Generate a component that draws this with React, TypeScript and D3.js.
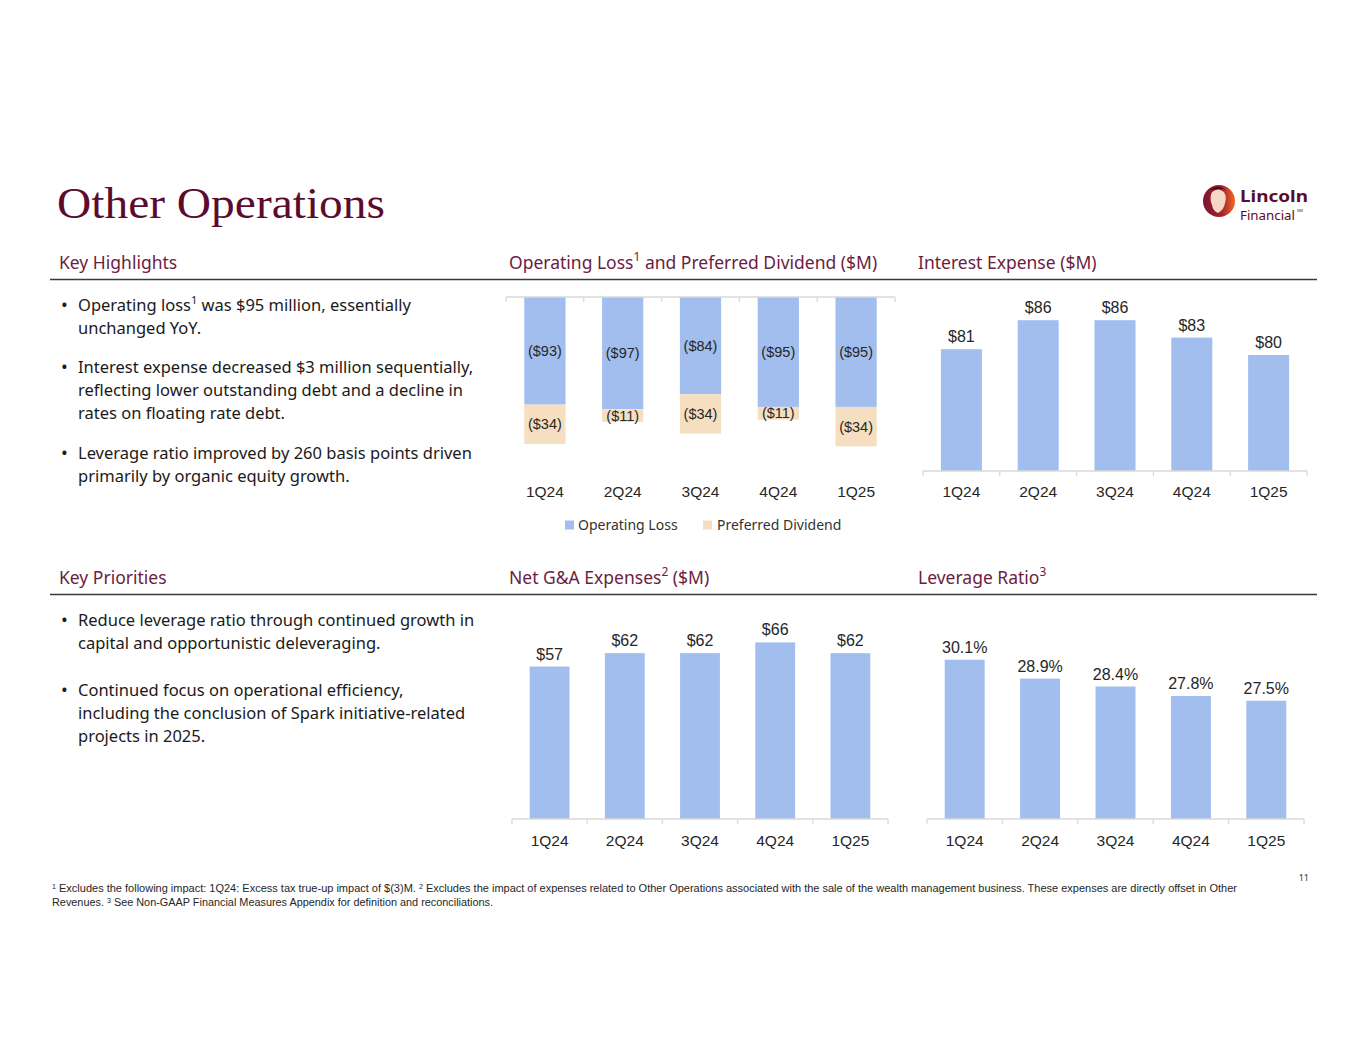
import React from "react";
import * as d3 from "d3";

const quarters = ["1Q24", "2Q24", "3Q24", "4Q24", "1Q25"];
const operatingLoss = [-93, -97, -84, -95, -95];
const preferredDividend = [-34, -11, -34, -11, -34];
const interestExpense = [81, 86, 86, 83, 80];
const netGAExpenses = [57, 62, 62, 66, 62];
const leverageRatio = [30.1, 28.9, 28.4, 27.8, 27.5];

const highlights = [
  [["Operating loss", "1", " was $95 million, essentially"], ["unchanged YoY."]],
  [["Interest expense decreased $3 million sequentially,"], ["reflecting lower outstanding debt and a decline in"], ["rates on floating rate debt."]],
  [["Leverage ratio improved by 260 basis points driven"], ["primarily by organic equity growth."]],
];
const priorities = [
  [["Reduce leverage ratio through continued growth in"], ["capital and opportunistic deleveraging."]],
  [["Continued focus on operational efficiency,"], ["including the conclusion of Spark initiative-related"], ["projects in 2025."]],
];

const BLUE = "#A1BEEF";
const BEIGE = "#F6DEC0";
const MAROON = "#6B1D42";
const TITLE = "#5B0C2E";
const AXIS = "#D9D9D9";
const SANS = "'Noto Sans', Lato, sans-serif";
const NUM = "'Liberation Sans', Arial, sans-serif";

const fmtNeg = (v: number) => `($${Math.abs(v)})`;
const fmtDol = (v: number) => `$${v}`;
const fmtPct = (v: number) => `${v.toFixed(1)}%`;

function Ticks({ x, y, dir }: { x: d3.ScaleBand<string>; y: number; dir: number }) {
  const step = x.step();
  const r = x.range();
  const n = quarters.length;
  const pts = d3.range(n + 1).map((i) => r[0] + i * step);
  return (
    <g>
      <line x1={r[0]} x2={r[1]} y1={y} y2={y} stroke={AXIS} strokeWidth={1.3} />
      {pts.map((p, i) => (
        <line key={i} x1={p} x2={p} y1={y} y2={y + dir * 5} stroke={AXIS} strokeWidth={1.3} />
      ))}
    </g>
  );
}

function XLabels({ x, y }: { x: d3.ScaleBand<string>; y: number }) {
  return (
    <g>
      {quarters.map((q) => (
        <text key={q} x={(x(q) as number) + x.bandwidth() / 2} y={y} textAnchor="middle" fontFamily={NUM} fontSize={15.5} fill="#262626">
          {q}
        </text>
      ))}
    </g>
  );
}

function SimpleBars({ values, x, y, fmt }: { values: number[]; x: d3.ScaleBand<string>; y: d3.ScaleLinear<number, number>; fmt: (v: number) => string }) {
  const base = y.range()[0];
  return (
    <g>
      {values.map((v, i) => {
        const q = quarters[i];
        const bx = x(q) as number;
        return (
          <g key={q}>
            <rect x={bx} y={y(v)} width={x.bandwidth()} height={base - y(v)} fill={BLUE} />
            <text x={bx + x.bandwidth() / 2} y={y(v) - 7} textAnchor="middle" fontFamily={NUM} fontSize={16} fill="#262626">
              {fmt(v)}
            </text>
          </g>
        );
      })}
    </g>
  );
}

function Header({ x, y, children }: { x: number; y: number; children: React.ReactNode }) {
  return (
    <text x={x} y={y} fontFamily={SANS} fontSize={17.5} fill={MAROON}>
      {children}
    </text>
  );
}

function Bullets({ items, y0, gaps }: { items: string[][][]; y0: number; gaps: number[] }) {
  let y = y0;
  const out: React.ReactNode[] = [];
  items.forEach((lines, bi) => {
    if (bi > 0) y += gaps[bi - 1];
    out.push(
      <text key={`b${bi}`} x={61} y={y} fontFamily={SANS} fontSize={18} fill="#1a1a1a">•</text>
    );
    lines.forEach((parts, li) => {
      const ly = y + li * 23;
      out.push(
        <text key={`t${bi}-${li}`} x={78} y={ly} fontFamily={SANS} fontSize={16.5} fill="#1a1a1a">
          {parts.map((p, pi) =>
            pi === 1 ? (
              <tspan key={pi} fontSize={11} baselineShift="super">{p}</tspan>
            ) : (
              <tspan key={pi}>{p}</tspan>
            )
          )}
        </text>
      );
    });
    y += (lines.length - 1) * 23;
  });
  return <g>{out}</g>;
}

export default function App() {
  // Chart 1: stacked negative bars
  const x1 = d3.scaleBand<string>().domain(quarters).range([506, 895]).paddingInner(0.47).paddingOuter(0.235);
  const y1 = d3.scaleLinear().domain([-140, 0]).range([459, 297]);
  const table = quarters.map((q, i) => ({ q, loss: operatingLoss[i], div: preferredDividend[i] }));
  const series = d3.stack<any>().keys(["loss", "div"]).offset(d3.stackOffsetDiverging)(table);
  const colors: Record<string, string> = { loss: BLUE, div: BEIGE };

  // Chart 2: interest expense
  const x2 = d3.scaleBand<string>().domain(quarters).range([923, 1307]).paddingInner(0.466).paddingOuter(0.233);
  const y2 = d3.scaleLinear().domain([60, 90]).range([471, 297]);

  // Chart 3: net G&A
  const x3 = d3.scaleBand<string>().domain(quarters).range([512, 888]).paddingInner(0.47).paddingOuter(0.235);
  const y3 = d3.scaleLinear().domain([0, 80]).range([819, 605]);

  // Chart 4: leverage ratio
  const x4 = d3.scaleBand<string>().domain(quarters).range([927, 1304]).paddingInner(0.47).paddingOuter(0.235);
  const y4 = d3.scaleLinear().domain([20, 34]).range([819, 598.2]);

  return (
    <svg width={1365} height={1055} style={{ position: "absolute", left: 0, top: 0, background: "#fff" }}>
      <rect x={0} y={0} width={1365} height={1055} fill="#fff" />
      {/* Title */}
      <text x={57} y={218} fontFamily="'Liberation Serif', 'Times New Roman', serif" fontSize={45} fill={TITLE} textLength={328} lengthAdjust="spacingAndGlyphs">
        Other Operations
      </text>

      {/* Logo */}
      <g>
        <defs>
          <linearGradient id="lg" x1="0" x2="1" y1="0" y2="0">
            <stop offset="0" stopColor="#7A1530" />
            <stop offset="0.6" stopColor="#A8232E" />
            <stop offset="1" stopColor="#F26A21" />
          </linearGradient>
        </defs>
        <circle cx={1219} cy={201} r={16} fill="url(#lg)" />
        <path d="M1212,192 q6,-5 12,0 q3,5 1,11 q-1,7 -7,10 q-5,-2 -6,-8 q-3,-7 0,-13z" fill="#F3D9C6" />
        <path d="M1210,190 q8,-7 16,0 q-4,-2 -8,-1 q-5,1 -8,1z" fill="#4A0B20" />
        <text x={1240} y={202} fontFamily={SANS} fontWeight={700} fontSize={15.5} fill={TITLE} textLength={68} lengthAdjust="spacingAndGlyphs">Lincoln</text>
        <text x={1240} y={219.5} fontFamily={SANS} fontSize={12} fill={TITLE} textLength={55} lengthAdjust="spacingAndGlyphs">Financial</text>
        <text x={1297} y={212} fontFamily={SANS} fontSize={4} fill={TITLE}>SM</text>
      </g>

      {/* Section headers */}
      <Header x={59} y={269}>Key Highlights</Header>
      <Header x={509} y={269}>
        Operating Loss<tspan fontSize={12} baselineShift="super">1</tspan> and Preferred Dividend ($M)
      </Header>
      <Header x={918} y={269}>Interest Expense ($M)</Header>
      <line x1={50} x2={1317} y1={279.5} y2={279.5} stroke="#3a3a3a" strokeWidth={1.5} />

      <Header x={59} y={584}>Key Priorities</Header>
      <Header x={509} y={584}>
        Net G&amp;A Expenses<tspan fontSize={12} baselineShift="super">2</tspan> ($M)
      </Header>
      <Header x={918} y={584}>
        Leverage Ratio<tspan fontSize={12} baselineShift="super">3</tspan>
      </Header>
      <line x1={50} x2={1317} y1={594.5} y2={594.5} stroke="#3a3a3a" strokeWidth={1.5} />

      {/* Bullets */}
      <Bullets items={highlights} y0={311} gaps={[39, 40]} />
      <Bullets items={priorities} y0={626} gaps={[47]} />

      {/* Chart 1 */}
      <g>
        {series.map((s) => (
          <g key={s.key}>
            {s.map((d, i) => {
              const q = quarters[i];
              const top = y1(d[1]);
              const bot = y1(d[0]);
              const v = s.key === "loss" ? operatingLoss[i] : preferredDividend[i];
              return (
                <g key={q}>
                  <rect x={x1(q)} y={top} width={x1.bandwidth()} height={bot - top} fill={colors[s.key]} />
                  <text x={(x1(q) as number) + x1.bandwidth() / 2} y={(top + bot) / 2 + 5} textAnchor="middle" fontFamily={NUM} fontSize={14.5} fill="#262626">
                    {fmtNeg(v)}
                  </text>
                </g>
              );
            })}
          </g>
        ))}
        <Ticks x={x1} y={y1(0)} dir={1} />
        <XLabels x={x1} y={497} />
        <rect x={565} y={520.5} width={9} height={9} fill={BLUE} />
        <text x={578} y={530} fontFamily={SANS} fontSize={14} fill="#333">Operating Loss</text>
        <rect x={703} y={520.5} width={9} height={9} fill={BEIGE} />
        <text x={717} y={530} fontFamily={SANS} fontSize={14} fill="#333">Preferred Dividend</text>
      </g>

      {/* Chart 2 */}
      <g>
        <SimpleBars values={interestExpense} x={x2} y={y2} fmt={fmtDol} />
        <Ticks x={x2} y={y2.range()[0]} dir={1} />
        <XLabels x={x2} y={497} />
      </g>

      {/* Chart 3 */}
      <g>
        <SimpleBars values={netGAExpenses} x={x3} y={y3} fmt={fmtDol} />
        <Ticks x={x3} y={y3.range()[0]} dir={1} />
        <XLabels x={x3} y={846} />
      </g>

      {/* Chart 4 */}
      <g>
        <SimpleBars values={leverageRatio} x={x4} y={y4} fmt={fmtPct} />
        <Ticks x={x4} y={y4.range()[0]} dir={1} />
        <XLabels x={x4} y={846} />
      </g>

      {/* Page number & footnotes */}
      <text x={1309} y={881} textAnchor="end" fontFamily={SANS} fontSize={9} fill="#333">11</text>
      <text x={52} y={892} fontFamily="'Liberation Sans Narrow', 'Arial Narrow', 'Liberation Sans', sans-serif" fontSize={10} fill="#262626" textLength={1185} lengthAdjust="spacingAndGlyphs">
        <tspan fontSize={6.5} baselineShift="super">1</tspan> Excludes the following impact: 1Q24: Excess tax true-up impact of $(3)M.  <tspan fontSize={6.5} baselineShift="super">2</tspan> Excludes the impact of expenses related to Other Operations associated with the sale of the wealth management business. These expenses are directly offset in Other
      </text>
      <text x={52} y={906} fontFamily="'Liberation Sans Narrow', 'Arial Narrow', 'Liberation Sans', sans-serif" fontSize={10} fill="#262626" textLength={441} lengthAdjust="spacingAndGlyphs">
        Revenues. <tspan fontSize={6.5} baselineShift="super">3</tspan> See Non-GAAP Financial Measures Appendix for definition and reconciliations.
      </text>
    </svg>
  );
}
